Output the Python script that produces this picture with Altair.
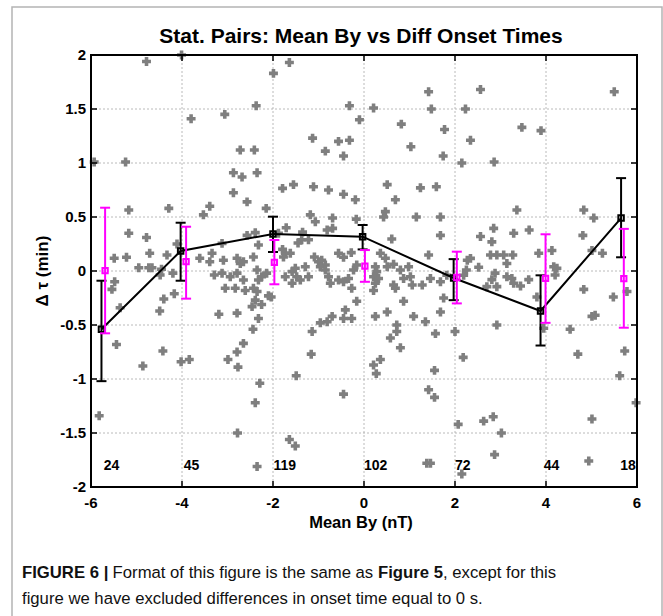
import altair as alt
import pandas as pd

# ---------------- data ----------------
scatter_x = [
    -5.93, -5.24, -5.17, -5.17, -5.22, -5.49, -5.54, -5.48, -5.36, -5.82, -5.44, -4.78, -4.78, -4.95, -4.73, -4.66, -4.71, -4.86,
    -4.01, -4.29, -4.33, -4.11, -4.45, -4.48, -4.20, -4.42, -4.49, -4.40, -4.17, -4.02, -3.84, -3.80, -3.53, -3.39, -3.61, -3.39,
    -3.34, -3.09, -3.12, -3.29, -3.12, -3.05, -3.19, -3.06,
    -2.87, -2.68, -2.72, -2.87, -2.57, -2.57, -2.41, -2.35, -2.37, -2.39, -2.32, -2.43, -2.15, -1.99, -1.64, -1.79, -1.55, -1.13,
    -1.11, -1.18, -1.07, -1.71, -1.88, -1.35, -1.37, -1.45, -1.22, -1.79, -1.73, -1.62, -1.77, -1.09, -2.79, -2.72, -2.65, -2.94,
    -2.79, -2.65, -2.83, -2.35, -2.32, -2.25, -2.14, -2.61, -2.43, -2.35, -2.39, -2.25, -2.46, -2.32, -2.10, -2.79, -1.73, -1.58,
    -1.51, -1.48, -1.40, -1.58, -1.29, -1.22, -1.00, -1.14, -2.99, -2.79, -2.77, -2.65, -2.78, -2.44, -2.29, -2.39, -2.35, -2.04,
    -1.64, -1.51, -1.49, -1.16,
    -0.85, -0.78, -0.45, -0.19, -0.69, -0.69, -0.81, -0.85, -0.93, -0.56, -0.45, -0.28, -0.96, -0.85, -0.78, -0.74, -0.56, -0.45,
    -0.34, -0.23, -0.16, -0.27, -0.41, -0.27, -0.45, -0.70, -0.81, -0.96, -0.32, 0.21, -0.10, 0.82, -0.56, -0.32, -0.45, 0.51,
    0.69, 0.47, 0.43, -0.17, 0.61, 0.36, 0.47, 0.51, 0.25, 0.28, 0.21, 0.32, 0.25, 0.21, 0.65, 0.80, 0.98, 0.87, 0.65, 0.69, 0.87,
    0.25, 0.51, 0.72, 0.72, 0.58, -0.45, 0.21, 0.36, 0.27, 0.80, -0.16,
    1.42, 2.56, 1.48, 2.23, 1.77, 2.34, 1.03, 1.74, 2.15, 2.86, 1.24, 1.59, 1.15, 1.68, 1.68, 1.42, 2.56, 2.81, 2.85, 2.52, 2.27,
    2.34, 2.25, 1.02, 1.06, 1.28, 1.46, 1.68, 1.82, 1.75, 1.09, 1.35, 1.68, 1.57, 2.00, 2.81, 2.88, 2.92, 2.70, 2.92, 1.38, 1.46,
    1.42, 1.55, 1.55, 2.18, 2.07, 2.15, 2.63, 2.84, 3.02, 2.87, 2.78, 2.92, 2.19,
    5.50, 3.47, 3.89, 3.36, 4.83, 5.05, 3.29, 3.63, 4.81, 3.07, 3.27, 3.14, 3.84, 4.13, 5.01, 5.24, 4.17, 4.24, 4.20, 3.14, 3.25,
    3.29, 3.44, 3.62, 3.80, 4.83, 5.48, 5.78, 4.53, 3.95, 5.01, 5.08, 4.70, 5.01, 4.94, 5.62, 5.73, 5.98,
]
scatter_y = [
    1.01, 1.01, 0.565, 0.35, 0.127, 0.118, -0.17, -0.10, -0.34, -1.34, -0.68, 1.94, 0.31, 0.03, 0.03, 0.03, 0.164, -0.88,
    2.00, 0.58, 0.148, 0.25, 0.016, -0.037, -0.02, -0.74, -0.37, -0.26, -0.21, -0.84, -0.82, 1.41, 0.52, 0.60, 0.118, 0.086,
    0.164, 0.10, 0.256, -0.037, -0.02, -0.16, -0.40, 1.45,
    0.91, 0.87, 1.12, 0.725, 0.64, 0.33, 1.12, 0.91, 1.53, 0.355, 0.24, 0.13, 0.58, 1.83, 1.93, 0.765, 0.80, 1.23,
    0.78, 0.52, 0.456, 0.40, 0.35, 0.36, 0.29, 0.26, 0.29, 0.20, 0.164, 0.164, 0.13, 0.13, 0.118, 0.07, 0.086, -0.053,
    -0.02, -0.083, -0.16, 0.01, -0.083, -0.053, -0.02, -0.18, -0.16, -0.19, -0.27, -0.31, -0.33, -0.44, -0.23, -0.39, -0.053, -0.006,
    0.025, -0.053, -0.083, -0.114, 0.04, -0.053, 0.086, -0.56, -0.82, -0.75, -0.89, -0.67, -1.50, -0.54, -1.04, -1.22, -1.81, -0.24,
    -1.56, -1.62, -0.97, -0.77,
    1.11, 0.75, 0.71, 0.66, 0.49, 0.395, 0.38, 0.055, 0.10, 0.164, 0.127, 0.17, 0.04, 0.01, -0.053, -0.114, -0.083, -0.10,
    -0.07, 0.01, 0.055, -0.16, -0.36, -0.44, -0.44, -0.42, -0.47, -0.48, 1.53, 1.51, 1.40, 1.36, 1.20, 1.21, 1.065, 0.80,
    0.66, 0.55, 0.50, 0.48, 0.296, 0.164, 0.118, 0.04, 0.04, -0.006, -0.053, -0.07, -0.114, -0.18, 0.062, 0.01, 0.04, -0.07, -0.13, -0.16, -0.28,
    -0.42, -0.38, -0.50, -0.56, -0.62, -1.14, -0.87, -0.82, -0.95, -0.71, -0.28,
    1.66, 1.68, 1.50, 1.50, 1.31, 1.21, 1.15, 1.065, 1.00, 1.01, 0.77, 0.78, 0.50, 0.50, 0.33, 0.148, 0.32, 0.27, 0.395, 0.035, 0.10,
    0.117, 0.01, -0.053, -0.13, -0.13, -0.07, -0.10, -0.04, -0.25, -0.42, -0.47, -0.38, -0.58, -0.56, -0.08, -0.02, -0.145, -0.145, -0.50, -1.78, -1.78,
    -1.10, -1.17, -0.92, -0.80, -1.42, -1.88, -1.39, -1.35, -1.50, -1.70, 0.148, 0.148, -0.04,
    1.66, 1.33, 1.30, 0.565, 0.565, 0.49, 0.35, 0.38, 0.33, 0.148, 0.148, 0.07, 0.164, 0.19, 0.19, 0.164, 0.04, 0.025, -0.037, -0.053, -0.07,
    -0.114, -0.139, -0.08, -0.24, -0.17, -0.24, -0.19, -0.54, -0.53, -0.42, -0.41, -0.77, -1.37, -1.76, -0.97, -0.74, -1.22,
]

mean_x = [-5.77, -4.03, -2.00, -0.03, 1.97, 3.88, 5.65]
mean_y = [-0.54, 0.185, 0.343, 0.318, -0.065, -0.37, 0.49]
mean_lo = [-1.02, -0.09, 0.176, 0.20, -0.27, -0.69, 0.127]
mean_hi = [-0.09, 0.447, 0.503, 0.426, 0.11, -0.04, 0.86]

med_x = [-5.69, -3.91, -1.97, 0.02, 2.04, 3.99, 5.71]
med_y = [0.003, 0.086, 0.08, 0.046, -0.06, -0.068, -0.07]
med_lo = [-0.577, -0.256, -0.123, -0.10, -0.30, -0.48, -0.525]
med_hi = [0.586, 0.41, 0.287, 0.194, 0.179, 0.34, 0.39]

count_x = [-5.72, -3.96, -1.99, 0.0, 2.0, 3.95, 5.63]
count_n = ["24", "45", "119", "102", "72", "44", "18"]
count_level = [-1.81] * 7

x_ticks = [-6, -4, -2, 0, 2, 4, 6]
x_tick_labels = ["-6", "-4", "-2", "0", "2", "4", "6"]
y_ticks = [-2, -1.5, -1, -0.5, 0, 0.5, 1, 1.5, 2]
y_tick_labels = ["-2", "-1.5", "-1", "-0.5", "0", "0.5", "1", "1.5", "2"]
x_grid = [-4, -2, 0, 2, 4]
y_grid = [-1.5, -1, -0.5, 0, 0.5, 1, 1.5]

title_text = "Stat. Pairs: Mean By vs Diff Onset Times"
x_title = "Mean By (nT)"
y_title = "Δ τ (min)"
caption_1 = ["FIGURE 6", "|", "Format of this figure is the same as", "Figure 5", ", except for this"]
caption_2 = "figure we have excluded differences in onset time equal to 0 s."

# ---------------- layout ----------------
W, H = 546, 432
FONT = "Liberation Sans"
xs = alt.Scale(domain=[-6, 6], nice=False, zero=False)
ys = alt.Scale(domain=[-2, 2], nice=False, zero=False)


def X(f):
    return alt.X(f, type="quantitative", scale=xs, axis=None)


def Y(f):
    return alt.Y(f, type="quantitative", scale=ys, axis=None)


one = pd.DataFrame({"k": [0]})

# grid
grid_v = alt.Chart(pd.DataFrame({"x": x_grid})).mark_rule(
    color="#a8a8a8", strokeWidth=0.8, strokeDash=[2, 2]).encode(x=X("x"), y=alt.value(0), y2=alt.value(H))
grid_h = alt.Chart(pd.DataFrame({"y": y_grid})).mark_rule(
    color="#a8a8a8", strokeWidth=0.8, strokeDash=[2, 2]).encode(y=Y("y"), x=alt.value(0), x2=alt.value(W))

scatter = alt.Chart(pd.DataFrame({"x": scatter_x, "y": scatter_y})).mark_point(
    shape="cross", filled=True, size=80, color="#7f7f7f", opacity=1
).encode(x=X("x"), y=Y("y"))

mean_df = pd.DataFrame({"x": mean_x, "m": mean_y, "lo": mean_lo, "hi": mean_hi})
med_df = pd.DataFrame({"x": med_x, "m": med_y, "lo": med_lo, "hi": med_hi})


def errbars(df, color, shape_size):
    base = alt.Chart(df)
    bar = base.mark_rule(color=color, strokeWidth=2).encode(x=X("x"), y=Y("lo"), y2="hi:Q")
    cap_hi = base.mark_rule(color=color, strokeWidth=2, xOffset=-5, x2Offset=5).encode(
        x=X("x"), x2="x:Q", y=Y("hi"))
    cap_lo = base.mark_rule(color=color, strokeWidth=2, xOffset=-5, x2Offset=5).encode(
        x=X("x"), x2="x:Q", y=Y("lo"))
    pts = base.mark_point(shape="square", filled=False, color=color, strokeWidth=2,
                          size=shape_size, opacity=1).encode(x=X("x"), y=Y("m"))
    return [bar, cap_hi, cap_lo, pts]


mean_line = alt.Chart(mean_df).mark_line(color="black", strokeWidth=2).encode(x=X("x"), y=Y("m"))

counts = alt.Chart(pd.DataFrame({"x": count_x, "y": count_level, "n": count_n})).mark_text(
    align="left", baseline="middle", font=FONT, fontWeight="bold", fontSize=14, color="black"
).encode(x=X("x"), y=Y("y"), text="n:N")

# frame & inward ticks
frame = alt.Chart(one).mark_rect(filled=False, stroke="black", strokeWidth=2).encode(
    x=alt.value(0), x2=alt.value(W), y=alt.value(0), y2=alt.value(H))
xt = alt.Chart(pd.DataFrame({"x": x_ticks, "lab": x_tick_labels}))
yt = alt.Chart(pd.DataFrame({"y": y_ticks, "lab": y_tick_labels}))
tick_b = xt.mark_rule(color="black", strokeWidth=1.5).encode(x=X("x"), y=alt.value(H), y2=alt.value(H - 6))
tick_t = xt.mark_rule(color="black", strokeWidth=1.5).encode(x=X("x"), y=alt.value(0), y2=alt.value(6))
tick_l = yt.mark_rule(color="black", strokeWidth=1.5).encode(y=Y("y"), x=alt.value(0), x2=alt.value(6))
tick_r = yt.mark_rule(color="black", strokeWidth=1.5).encode(y=Y("y"), x=alt.value(W), x2=alt.value(W - 6))

xlab = xt.mark_text(align="center", baseline="top", font=FONT, fontWeight="bold", fontSize=15,
                    color="black").encode(x=X("x"), y=alt.value(H + 9), text="lab:N")
ylab = yt.mark_text(align="right", baseline="middle", font=FONT, fontWeight="bold", fontSize=15,
                    color="black").encode(y=Y("y"), x=alt.value(-5), text="lab:N")

xtitle = alt.Chart(pd.DataFrame({"t": [x_title]})).mark_text(
    align="center", baseline="middle", font=FONT, fontWeight="bold", fontSize=16.5, color="black"
).encode(x=alt.value(270), y=alt.value(468), text="t:N")
ytitle = alt.Chart(pd.DataFrame({"t": [y_title]})).mark_text(
    align="center", baseline="middle", angle=270, font=FONT, fontWeight="bold", fontSize=17, color="black"
).encode(x=alt.value(-48), y=alt.value(216), text="t:N")

# outer figure border
border = alt.Chart(one).mark_rect(filled=False, stroke="#b4b4b4", strokeWidth=1.5).encode(
    x=alt.value(-79), x2=alt.value(571), y=alt.value(-48), y2=alt.value(570))

title = alt.Chart(pd.DataFrame({"t": [title_text]})).mark_text(
    align="center", baseline="alphabetic", font=FONT, fontWeight="bold", fontSize=21, color="black"
).encode(x=alt.value(270), y=alt.value(-12), text="t:N")

CF = 16.7
cap_layers = []
cap_pos = [-69, 12.7, 21.6, 287.0, 352.0]
cap_weight = ["bold", "bold", "normal", "bold", "normal"]
for txt, px, wt in zip(caption_1, cap_pos, cap_weight):
    cap_layers.append(alt.Chart(pd.DataFrame({"t": [txt]})).mark_text(
        align="left", baseline="middle", font=FONT, fontWeight=wt, fontSize=CF, color="#111111"
    ).encode(x=alt.value(px), y=alt.value(518), text="t:N"))
cap_layers.append(alt.Chart(pd.DataFrame({"t": [caption_2]})).mark_text(
    align="left", baseline="middle", font=FONT, fontWeight="normal", fontSize=CF, color="#111111"
).encode(x=alt.value(-69), y=alt.value(544), text="t:N"))

layers = [grid_v, grid_h, scatter, mean_line] + errbars(mean_df, "black", 30) + errbars(med_df, "#ff00ff", 28) + \
    [counts, frame, tick_b, tick_t, tick_l, tick_r, xlab, ylab, xtitle, ytitle, border, title] + cap_layers

chart = alt.layer(*layers).properties(
    width=W, height=H,
    padding={"left": 91, "top": 55, "right": 26, "bottom": 129},
    autosize=alt.AutoSizeParams(type="none"),
    background="white",
).configure_view(stroke=None)

chart.save("out.html", embed_options={"renderer": "svg", "actions": False})
